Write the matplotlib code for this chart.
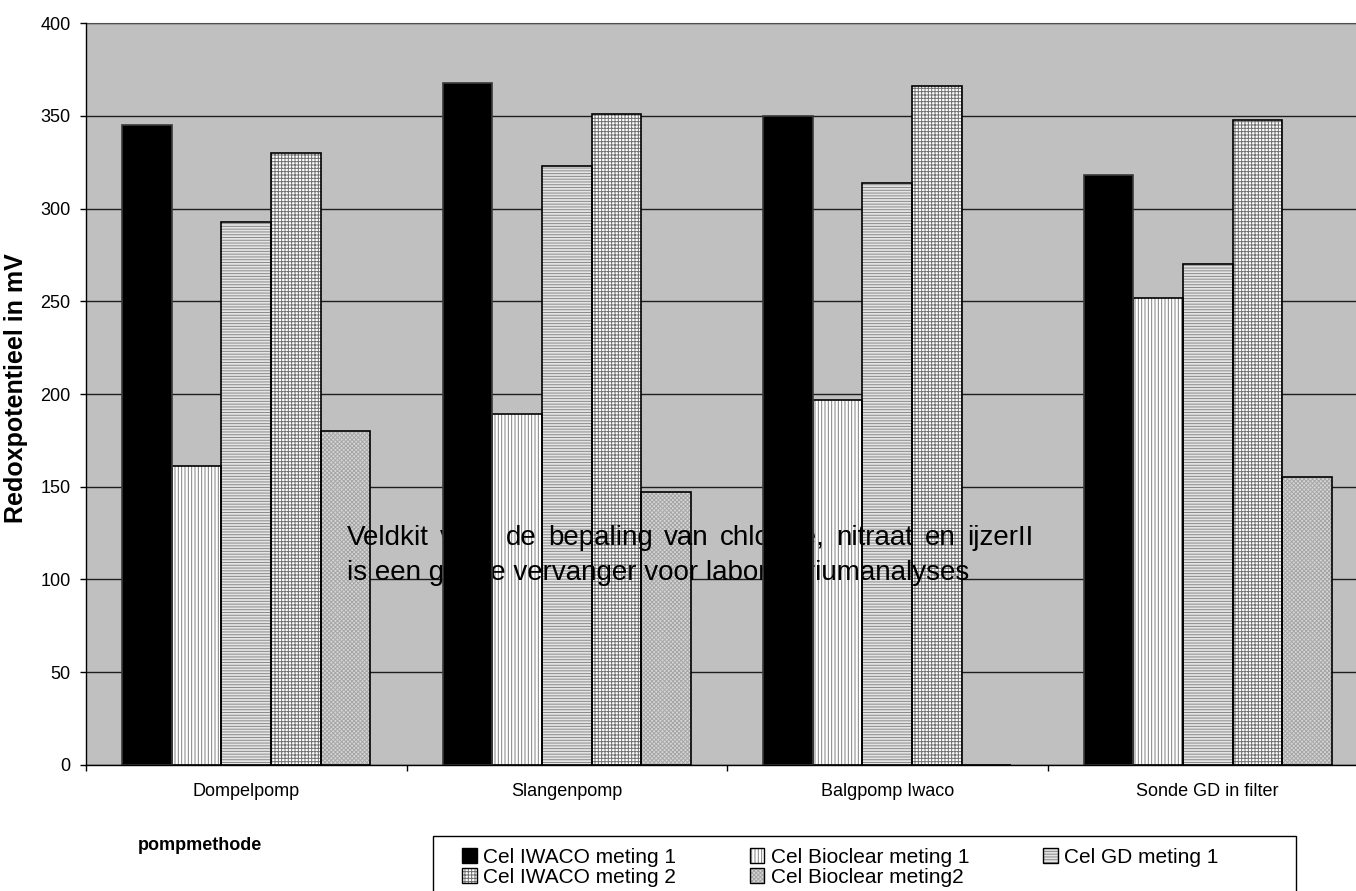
import matplotlib
matplotlib.use("Agg")
import matplotlib.pyplot as plt
import numpy as np
from matplotlib.patches import Patch, Rectangle
from matplotlib.transforms import IdentityTransform

# ---- data -------------------------------------------------------------
categories = ["Dompelpomp", "Slangenpomp", "Balgpomp Iwaco", "Sonde GD in filter"]
series_names = ["Cel IWACO meting 1", "Cel Bioclear meting 1", "Cel GD meting 1",
                "Cel IWACO meting 2", "Cel Bioclear meting2"]
iwaco_1 = [345, 368, 350, 318]
bioclear_1 = [161, 189, 197, 252]
gd_1 = [293, 323, 314, 270]
iwaco_2 = [330, 351, 366, 348]
bioclear_2 = [180, 147, 0, 155]
y_ticks = [0, 50, 100, 150, 200, 250, 300, 350, 400]

y_label = "Redoxpotentieel in mV"
x_label = "pompmethode"
note_line1 = "Veldkit voor de bepaling van chloride, nitraat en ijzerII"
note_line2 = "is een goede vervanger voor laboratoriumanalyses"

# ---- styles (face, hatch, hatch colour, zorder) -----------------------
styles = [
    ("black", None, "#404040", 6),
    ("white", "|||||", "#808080", 3),
    ("#e4e4e4", "------", "#8a8a8a", 3),
    ("white", "+++++", "#707070", 3),
    ("#d6d6d6", "xxxxxxxx", "#a6a6a6", 3),
]
series = [iwaco_1, bioclear_1, gd_1, iwaco_2, bioclear_2]

plt.rcParams["font.family"] = ["Liberation Sans", "DejaVu Sans"]
plt.rcParams["hatch.linewidth"] = 0.7

W, H = 1356, 891
fig = plt.figure(figsize=(W / 100, H / 100), dpi=100)
fig.patch.set_facecolor("white")

ax_left, ax_right, ax_top, ax_bottom = 86, 1368, 23.2, 764.8
ax = fig.add_axes([ax_left / W, 1 - ax_bottom / H,
                   (ax_right - ax_left) / W, (ax_bottom - ax_top) / H])
ax.set_facecolor("#c0c0c0")

n = len(series)
bar_w = 0.155
x = np.arange(len(categories))
handles = []
for i, (vals, (face, hatch, hcol, z)) in enumerate(zip(series, styles)):
    pos = x + (i - (n - 1) / 2) * bar_w
    ax.bar(pos, vals, bar_w, color=face, edgecolor=hcol, hatch=hatch,
           linewidth=0, zorder=z)
    ax.bar(pos, vals, bar_w, fill=False,
           edgecolor="#3a3a3a" if i == 0 else "black",
           linewidth=1.2, zorder=z + 0.5)
    handles.append((Patch(facecolor=face, edgecolor=hcol, hatch=hatch, linewidth=0),
                    Patch(fill=False, edgecolor="black", linewidth=1.0)))

ax.set_xlim(-0.5, len(categories) - 0.5)
ax.set_ylim(y_ticks[0], y_ticks[-1])
ax.set_yticks(y_ticks)
ax.set_xticks(x)
ax.set_xticklabels(categories)
ax.set_xticks(np.arange(len(categories)) - 0.5, minor=True)

ax.yaxis.grid(True, color="#1e1e1e", linewidth=1.0)
ax.set_axisbelow(True)

for side in ("left", "bottom"):
    ax.spines[side].set_color("black")
    ax.spines[side].set_linewidth(1.0)
    ax.spines[side].set_zorder(8)
ax.spines["top"].set_color("#505050")
ax.spines["right"].set_visible(False)

ax.tick_params(axis="y", direction="out", length=4.5, width=1, pad=6.5,
               labelsize=13, colors="black")
ax.tick_params(axis="x", which="major", length=0, pad=13, labelsize=13)
ax.tick_params(axis="x", which="minor", direction="out", length=4.5, width=1)

# ---- note inside the plot area: over the patterned bars, under the black ones
fig.canvas.draw()
renderer = fig.canvas.get_renderer()
note_kw = dict(fontsize=20, transform=IdentityTransform(), va="baseline",
               ha="left", zorder=5, clip_on=False, color="black")
x_start, x_end = 347, 1033
base1, base2 = H - 545, H - 580
words = note_line1.split()
tmp = [ax.text(0, 0, w, **note_kw) for w in words]
widths = [t.get_window_extent(renderer).width for t in tmp]
for t in tmp:
    t.remove()
gap = (x_end - x_start - sum(widths)) / (len(words) - 1)
xc = x_start
for w, wd in zip(words, widths):
    ax.text(xc, base1, w, **note_kw)
    xc += wd + gap
ax.text(x_start, base2, note_line2, **note_kw)

# ---- axis titles -------------------------------------------------------
fig.text(16 / W, 1 - 388 / H, y_label, rotation=90, fontsize=18,
         fontweight="bold", ha="center", va="center")
fig.text(200 / W, 1 - 845 / H, x_label, fontsize=13, fontweight="bold",
         ha="center", va="center")

# ---- legend ------------------------------------------------------------
order = [0, 3, 1, 4, 2]
leg = ax.legend([handles[k] for k in order], [series_names[k] for k in order],
                ncol=3, loc="upper left",
                bbox_to_anchor=(462 / W, 1 - 848 / H), bbox_transform=fig.transFigure,
                frameon=False, fontsize=15, handlelength=0.7, handleheight=0.7,
                handletextpad=0.3, columnspacing=3.55, labelspacing=0.05,
                borderpad=0, borderaxespad=0)
fig.patches.append(Rectangle((433 / W, -0.02), (1296 - 433) / W, (H - 836) / H + 0.02,
                             transform=fig.transFigure, fill=False,
                             edgecolor="black", linewidth=1.0))

fig.savefig("out.png", dpi=100)
